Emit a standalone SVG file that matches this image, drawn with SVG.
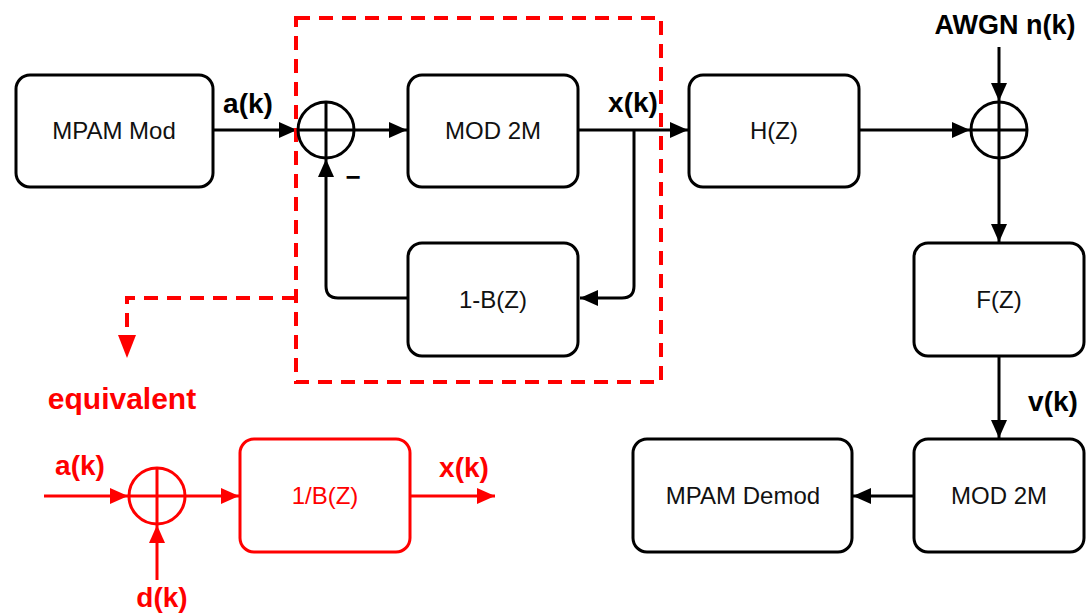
<svg xmlns="http://www.w3.org/2000/svg" width="1087" height="614" viewBox="0 0 1087 614">
<style>
.box{fill:#fff;stroke:#000;stroke-width:3}
.rbox{fill:#fff;stroke:#f00;stroke-width:3}
.ln{fill:none;stroke:#000;stroke-width:3}
.rln{fill:none;stroke:#f00;stroke-width:3}
.dash{fill:none;stroke:#f00;stroke-width:4;stroke-dasharray:14 9}
.t{font-family:"Liberation Sans",Arial,sans-serif;font-size:24px;fill:#111;text-anchor:middle}
.rt{font-family:"Liberation Sans",Arial,sans-serif;font-size:24px;fill:#f00;text-anchor:middle}
.b{font-family:"Liberation Sans",Arial,sans-serif;font-size:28px;font-weight:bold;fill:#000;text-anchor:middle}
.rb{font-family:"Liberation Sans",Arial,sans-serif;font-size:28px;font-weight:bold;fill:#f00;text-anchor:middle}
</style>
<defs>
<marker id="ah" markerUnits="userSpaceOnUse" markerWidth="18" markerHeight="18" viewBox="0 0 18 18" refX="18" refY="9" orient="auto">
<path d="M0,1 L18,9 L0,17 Z" fill="#000"/>
</marker>
<marker id="rah" markerUnits="userSpaceOnUse" markerWidth="18" markerHeight="18" viewBox="0 0 18 18" refX="18" refY="9" orient="auto">
<path d="M0,1 L18,9 L0,17 Z" fill="#f00"/>
</marker>
</defs>
<rect width="1087" height="614" fill="#fff"/>

<g id="connectors">
<path class="ln" d="M213,130 H297" marker-end="url(#ah)"/>
<path class="ln" d="M354,130 H407" marker-end="url(#ah)"/>
<path class="ln" d="M578,130 H688" marker-end="url(#ah)"/>
<path class="ln" d="M634,130 V286 Q634,298 622,298 H580" marker-end="url(#ah)"/>
<path class="ln" d="M408,298 H338 Q326,298 326,286 V159" marker-end="url(#ah)"/>
<path class="ln" d="M859,130 H970" marker-end="url(#ah)"/>
<path class="ln" d="M999,47 V101" marker-end="url(#ah)"/>
<path class="ln" d="M999,158 V242" marker-end="url(#ah)"/>
<path class="ln" d="M999,356 V438" marker-end="url(#ah)"/>
<path class="ln" d="M914,496 H853" marker-end="url(#ah)"/>
<path class="dash" d="M296,298 H127 V338"/>
<path d="M118,335 L136,335 L127,358 Z" fill="#f00"/>
<path class="rln" d="M44,496 H128" marker-end="url(#rah)"/>
<path class="rln" d="M185,496 H239" marker-end="url(#rah)"/>
<path class="rln" d="M157,580 V525" marker-end="url(#rah)"/>
<path class="rln" d="M410,496 H495" marker-end="url(#rah)"/>
</g>

<g id="dashed-region">
<rect class="dash" x="296" y="18" width="365" height="364"/>
</g>

<g id="mpam-mod"><rect class="box" x="16" y="75" width="197" height="112" rx="14"/><text class="t" x="114" y="139">MPAM Mod</text></g>
<g id="sum1"><circle class="ln" cx="326" cy="130" r="28"/><path class="ln" d="M298,130 H354 M326,102 V158"/></g>
<g id="mod2m-top"><rect class="box" x="408" y="75" width="170" height="112" rx="14"/><text class="t" x="493" y="139">MOD 2M</text></g>
<g id="one-minus-b"><rect class="box" x="408" y="243" width="170" height="113" rx="14"/><text class="t" x="493" y="308">1-B(Z)</text></g>
<g id="hz"><rect class="box" x="689" y="75" width="170" height="112" rx="14"/><text class="t" x="774" y="139">H(Z)</text></g>
<g id="sum2"><circle class="ln" cx="999" cy="130" r="28"/><path class="ln" d="M971,130 H1027 M999,102 V158"/></g>
<g id="fz"><rect class="box" x="914" y="243" width="170" height="113" rx="14"/><text class="t" x="999" y="308">F(Z)</text></g>
<g id="mod2m-bottom"><rect class="box" x="914" y="439" width="170" height="113" rx="14"/><text class="t" x="999" y="504">MOD 2M</text></g>
<g id="mpam-demod"><rect class="box" x="633" y="439" width="219" height="113" rx="14"/><text class="t" x="743" y="504">MPAM Demod</text></g>

<g id="sum3"><circle class="rln" cx="157" cy="496" r="28"/><path class="rln" d="M129,496 H185 M157,468 V524"/></g>
<g id="inv-b"><rect class="rbox" x="240" y="439" width="170" height="113" rx="14"/><text class="rt" x="325" y="504">1/B(Z)</text></g>

<g id="labels">
<text class="b" x="248" y="113">a(k)</text>
<text class="b" x="633" y="112">x(k)</text>
<text class="b" x="1005" y="34" style="font-size:27px">AWGN n(k)</text>
<text class="b" x="1053" y="411">v(k)</text>
<text class="b" x="353" y="186" style="font-size:26px">−</text>
<text class="rb" x="122" y="409" style="font-size:30px">equivalent</text>
<text class="rb" x="80" y="475">a(k)</text>
<text class="rb" x="464" y="477">x(k)</text>
<text class="rb" x="162" y="607">d(k)</text>
</g>
</svg>
